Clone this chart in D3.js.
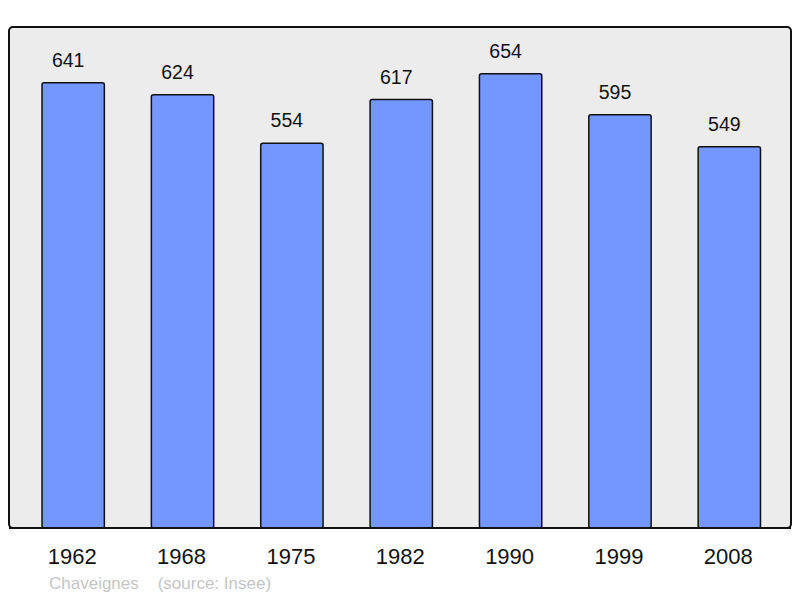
<!DOCTYPE html>
<html>
<head>
<meta charset="utf-8">
<script src="https://cdn.jsdelivr.net/npm/d3@7"></script>
<style>
  body { margin: 0; background: #fff; }
  text { font-family: "Liberation Sans", Arial, sans-serif; }
</style>
</head>
<body>
<div id="chart"></div>
<script>
const years = ["1962", "1968", "1975", "1982", "1990", "1999", "2008"];
const population = [641, 624, 554, 617, 654, 595, 549];
const commune = "Chaveignes";
const source = "(source: Insee)";

const w = 800;
const h = 598;
const panel = { left: 9, top: 27, right: 791, bottom: 528 };

const svg = d3.select("#chart")
  .append("svg")
  .attr("width", w)
  .attr("height", h);

// background panel
svg.append("rect")
  .attr("x", panel.left)
  .attr("y", panel.top)
  .attr("width", panel.right - panel.left)
  .attr("height", panel.bottom - panel.top)
  .attr("rx", 4)
  .attr("fill", "#ececec")
  .attr("stroke", "#111")
  .attr("stroke-width", 2);

const xScale = d3.scaleBand()
  .domain(years)
  .range([18.5, 784])
  .paddingInner(0.43)
  .paddingOuter(0.215);

const yScale = d3.scaleLinear()
  .domain([0, 720])
  .range([panel.bottom, panel.top + 1]);

const data = years.map((y, i) => ({ year: y, value: population[i] }));

svg.selectAll("rect.bar")
  .data(data)
  .enter()
  .append("rect")
  .attr("class", "bar")
  .attr("x", d => xScale(d.year))
  .attr("y", d => yScale(d.value))
  .attr("width", xScale.bandwidth())
  .attr("height", d => yScale(0) - yScale(d.value))
  .attr("rx", 2)
  .attr("fill", "#7396ff")
  .attr("stroke", "#111")
  .attr("stroke-width", 1.5);

// redraw panel bottom edge on top of bars
svg.append("line")
  .attr("x1", panel.left)
  .attr("x2", panel.right)
  .attr("y1", panel.bottom)
  .attr("y2", panel.bottom)
  .attr("stroke", "#111")
  .attr("stroke-width", 2);

svg.selectAll("text.value")
  .data(data)
  .enter()
  .append("text")
  .attr("class", "value")
  .attr("x", d => xScale(d.year) + xScale.bandwidth() / 2 - 5)
  .attr("y", d => yScale(d.value) - 16)
  .attr("text-anchor", "middle")
  .attr("font-size", 19.5)
  .attr("fill", "#111")
  .text(d => d.value);

const xAxis = d3.axisBottom(xScale).tickSize(0).tickPadding(0);
const gx = svg.append("g")
  .attr("transform", `translate(0, ${panel.bottom})`)
  .call(xAxis);
gx.select(".domain").remove();
gx.selectAll("text")
  .attr("font-size", 22)
  .attr("fill", "#111")
  .attr("dy", 0)
  .attr("x", -1)
  .attr("y", 36)
  .style("font-family", "'Liberation Sans', Arial, sans-serif");

svg.append("text")
  .attr("x", 49)
  .attr("y", 589)
  .attr("font-size", 17)
  .attr("fill", "#c6c6c6")
  .attr("xml:space", "preserve")
  .style("white-space", "pre")
  .text(commune + "    " + source);
</script>
</body>
</html>
